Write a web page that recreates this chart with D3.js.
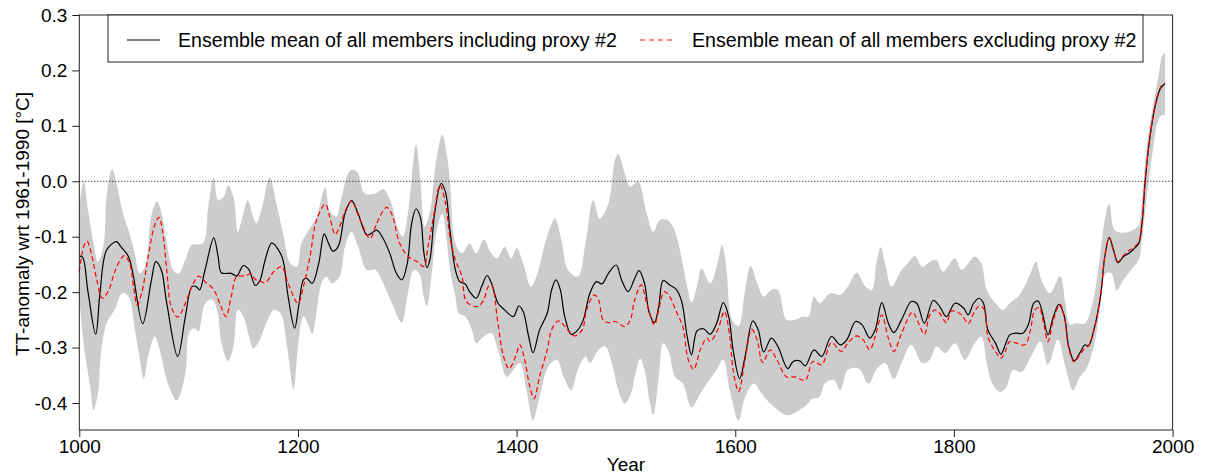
<!DOCTYPE html>
<html>
<head>
<meta charset="utf-8">
<script src="https://cdn.jsdelivr.net/npm/d3@7"></script>
<style>
  body { margin: 0; background: #fff; }
  text { font-family: "Liberation Sans", Arial, sans-serif; }
</style>
</head>
<body>
<div id="wrapper"></div>
<script>
const w = 1205
const h = 475

// ensemble mean, all members incl. proxy #2 (black line)
const meanYears = [1000,1003,1008,1015,1019,1025,1034,1038,1045,1049,1058,1066,1070,1075,1080,1090,1097,1103,1107,1110,1115,1123,1127,1130,1139,1144,1150,1155,1161,1165,1170,1176,1184,1187,1191,1197,1201,1205,1208,1213,1219,1224,1228,1232,1237,1243,1249,1255,1263,1267,1272,1277,1284,1290,1295,1300,1304,1308,1312,1315,1318,1321,1325,1331,1335,1339,1344,1348,1353,1357,1363,1368,1373,1377,1383,1389,1397,1402,1406,1411,1415,1421,1428,1432,1436,1440,1444,1450,1456,1461,1467,1473,1478,1484,1491,1496,1502,1508,1512,1517,1521,1526,1530,1534,1540,1546,1551,1556,1560,1565,1571,1577,1583,1589,1594,1598,1604,1609,1616,1621,1626,1633,1639,1648,1653,1659,1664,1672,1679,1688,1696,1702,1710,1716,1723,1728,1734,1740,1745,1752,1761,1766,1773,1781,1787,1793,1801,1809,1813,1818,1823,1827,1831,1838,1843,1847,1851,1856,1863,1868,1873,1877,1881,1886,1891,1896,1901,1905,1910,1915,1920,1923,1928,1934,1938,1942,1946,1950,1955,1960,1964,1969,1972,1975,1979,1984,1989,1993]
const meanVals = [-0.135,-0.137,-0.2,-0.276,-0.2,-0.124,-0.109,-0.118,-0.136,-0.166,-0.257,-0.178,-0.145,-0.16,-0.22,-0.316,-0.244,-0.19,-0.19,-0.196,-0.16,-0.102,-0.136,-0.165,-0.166,-0.171,-0.152,-0.159,-0.188,-0.18,-0.142,-0.111,-0.13,-0.148,-0.208,-0.265,-0.22,-0.178,-0.175,-0.184,-0.148,-0.095,-0.112,-0.126,-0.117,-0.058,-0.035,-0.058,-0.097,-0.094,-0.088,-0.1,-0.13,-0.166,-0.178,-0.148,-0.076,-0.05,-0.065,-0.126,-0.156,-0.138,-0.058,-0.004,-0.02,-0.088,-0.16,-0.181,-0.185,-0.199,-0.211,-0.19,-0.17,-0.184,-0.22,-0.232,-0.244,-0.225,-0.235,-0.28,-0.309,-0.268,-0.238,-0.196,-0.178,-0.196,-0.244,-0.276,-0.268,-0.25,-0.202,-0.181,-0.185,-0.166,-0.151,-0.178,-0.199,-0.175,-0.161,-0.184,-0.235,-0.255,-0.226,-0.179,-0.187,-0.195,-0.217,-0.28,-0.313,-0.27,-0.266,-0.276,-0.256,-0.219,-0.244,-0.304,-0.356,-0.316,-0.252,-0.268,-0.308,-0.283,-0.298,-0.338,-0.325,-0.324,-0.333,-0.304,-0.316,-0.28,-0.295,-0.286,-0.253,-0.259,-0.283,-0.268,-0.219,-0.256,-0.273,-0.25,-0.217,-0.22,-0.256,-0.215,-0.226,-0.244,-0.22,-0.229,-0.241,-0.22,-0.211,-0.22,-0.268,-0.292,-0.312,-0.295,-0.277,-0.274,-0.274,-0.259,-0.22,-0.216,-0.238,-0.277,-0.244,-0.222,-0.244,-0.298,-0.324,-0.31,-0.295,-0.297,-0.268,-0.208,-0.136,-0.101,-0.124,-0.147,-0.136,-0.13,-0.123,-0.112,-0.076,0.002,0.075,0.135,0.168,0.176]

// ensemble mean excluding proxy #2 (red dashed)
const exclYears = [1000,1004,1007,1011,1016,1021,1027,1033,1041,1046,1050,1053,1057,1063,1069,1073,1076,1080,1084,1090,1097,1103,1109,1115,1123,1129,1134,1139,1144,1152,1156,1161,1165,1170,1178,1185,1191,1200,1205,1211,1217,1225,1229,1234,1238,1245,1249,1257,1266,1272,1281,1286,1293,1301,1309,1315,1319,1324,1330,1335,1339,1344,1350,1354,1364,1370,1374,1377,1383,1388,1393,1399,1403,1408,1412,1416,1421,1428,1432,1438,1443,1449,1453,1460,1464,1471,1475,1479,1484,1490,1499,1504,1508,1514,1519,1526,1530,1535,1540,1546,1552,1557,1562,1568,1574,1577,1584,1590,1595,1598,1603,1609,1615,1620,1625,1632,1638,1647,1655,1664,1671,1679,1688,1697,1703,1711,1717,1723,1728,1734,1740,1745,1752,1762,1767,1773,1778,1783,1787,1793,1798,1807,1813,1818,1823,1828,1831,1838,1843,1847,1851,1857,1865,1870,1874,1878,1882,1886,1891,1897,1901,1905,1910,1915,1920,1923,1928,1934,1938,1942,1946,1950,1955,1960,1964,1969,1972,1975,1979,1984,1989,1993]
const exclVals = [-0.163,-0.118,-0.108,-0.13,-0.178,-0.211,-0.196,-0.16,-0.134,-0.148,-0.196,-0.223,-0.202,-0.136,-0.079,-0.065,-0.088,-0.16,-0.226,-0.245,-0.22,-0.19,-0.171,-0.181,-0.196,-0.223,-0.244,-0.208,-0.172,-0.171,-0.167,-0.177,-0.18,-0.183,-0.163,-0.154,-0.184,-0.22,-0.19,-0.136,-0.07,-0.041,-0.064,-0.096,-0.082,-0.046,-0.036,-0.07,-0.103,-0.076,-0.047,-0.06,-0.112,-0.136,-0.145,-0.154,-0.118,-0.064,-0.007,-0.04,-0.1,-0.142,-0.172,-0.217,-0.226,-0.214,-0.19,-0.187,-0.257,-0.316,-0.338,-0.316,-0.295,-0.328,-0.37,-0.392,-0.352,-0.304,-0.268,-0.252,-0.259,-0.274,-0.279,-0.268,-0.232,-0.205,-0.214,-0.25,-0.255,-0.253,-0.262,-0.25,-0.214,-0.187,-0.22,-0.259,-0.232,-0.199,-0.208,-0.235,-0.262,-0.322,-0.339,-0.304,-0.283,-0.289,-0.268,-0.235,-0.28,-0.34,-0.379,-0.322,-0.267,-0.286,-0.327,-0.304,-0.322,-0.353,-0.353,-0.359,-0.325,-0.331,-0.291,-0.307,-0.292,-0.279,-0.286,-0.304,-0.28,-0.241,-0.283,-0.307,-0.275,-0.236,-0.253,-0.276,-0.241,-0.232,-0.238,-0.255,-0.234,-0.241,-0.257,-0.238,-0.225,-0.232,-0.28,-0.307,-0.319,-0.307,-0.289,-0.292,-0.295,-0.268,-0.232,-0.228,-0.256,-0.289,-0.25,-0.222,-0.244,-0.301,-0.326,-0.313,-0.301,-0.297,-0.268,-0.208,-0.136,-0.103,-0.126,-0.145,-0.134,-0.125,-0.12,-0.109,-0.074,0.004,0.077,0.137,0.17,0.178]

// grey ensemble spread, upper edge
const upperYears = [1000,1004,1008,1013,1017,1022,1025,1030,1034,1040,1046,1051,1055,1060,1066,1071,1076,1080,1086,1091,1097,1103,1113,1118,1123,1127,1132,1136,1141,1145,1150,1154,1159,1162,1168,1174,1181,1187,1193,1199,1203,1210,1217,1225,1229,1235,1240,1248,1254,1261,1271,1278,1286,1290,1296,1301,1308,1312,1316,1321,1327,1332,1336,1339,1344,1350,1357,1363,1370,1376,1382,1389,1395,1400,1406,1413,1418,1426,1432,1435,1441,1447,1456,1463,1470,1476,1484,1490,1493,1499,1504,1511,1519,1525,1531,1537,1543,1549,1556,1560,1565,1569,1577,1583,1588,1592,1597,1603,1609,1614,1620,1626,1633,1639,1647,1656,1662,1667,1672,1677,1687,1696,1703,1711,1719,1725,1729,1733,1737,1743,1752,1758,1764,1771,1778,1784,1790,1801,1807,1819,1825,1830,1838,1845,1851,1860,1870,1875,1880,1888,1897,1902,1906,1911,1920,1926,1932,1937,1942,1947,1955,1964,1969,1972,1976,1982,1987,1991,1993]
const upperVals = [-0.046,0.0,-0.052,-0.112,-0.145,-0.118,-0.028,0.022,-0.004,-0.058,-0.094,-0.133,-0.166,-0.154,-0.061,-0.036,-0.064,-0.112,-0.16,-0.166,-0.142,-0.115,-0.112,-0.046,0.007,-0.034,-0.028,-0.007,-0.028,-0.091,-0.058,-0.034,-0.064,-0.076,-0.04,0.007,-0.046,-0.1,-0.148,-0.154,-0.112,-0.088,-0.064,-0.011,-0.052,-0.064,-0.028,0.02,0.017,-0.022,-0.022,-0.014,-0.043,-0.076,-0.1,-0.052,0.066,0.002,-0.082,-0.052,0.045,0.084,0.05,0.0,-0.112,-0.13,-0.112,-0.13,-0.105,-0.127,-0.139,-0.118,-0.139,-0.121,-0.148,-0.19,-0.172,-0.112,-0.076,-0.067,-0.106,-0.16,-0.172,-0.112,-0.034,-0.067,-0.04,0.039,0.049,0.014,-0.01,0.0,-0.058,-0.091,-0.07,-0.069,-0.082,-0.121,-0.19,-0.219,-0.19,-0.157,-0.184,-0.154,-0.115,-0.16,-0.25,-0.261,-0.196,-0.153,-0.184,-0.208,-0.196,-0.196,-0.25,-0.249,-0.244,-0.244,-0.208,-0.22,-0.202,-0.205,-0.19,-0.165,-0.19,-0.196,-0.148,-0.119,-0.148,-0.19,-0.16,-0.148,-0.135,-0.154,-0.145,-0.142,-0.163,-0.139,-0.16,-0.136,-0.148,-0.196,-0.22,-0.232,-0.22,-0.205,-0.166,-0.145,-0.178,-0.202,-0.171,-0.22,-0.259,-0.256,-0.256,-0.226,-0.16,-0.082,-0.04,-0.088,-0.093,-0.088,-0.079,-0.034,0.057,0.135,0.189,0.228,0.231]

// grey ensemble spread, lower edge
const lowerYears = [1000,1004,1010,1013,1017,1020,1025,1033,1039,1045,1051,1055,1059,1063,1069,1075,1081,1089,1097,1101,1106,1109,1115,1121,1126,1130,1136,1141,1145,1150,1155,1159,1164,1171,1178,1184,1190,1196,1200,1205,1210,1213,1216,1222,1226,1231,1238,1243,1249,1255,1263,1271,1278,1286,1295,1300,1306,1311,1315,1318,1322,1327,1332,1336,1339,1344,1347,1353,1359,1363,1370,1377,1383,1391,1397,1403,1409,1415,1421,1429,1437,1443,1450,1456,1463,1467,1475,1481,1487,1493,1499,1505,1508,1513,1517,1522,1525,1530,1534,1539,1545,1552,1560,1568,1575,1583,1589,1595,1603,1609,1617,1624,1632,1639,1647,1656,1665,1671,1677,1682,1690,1696,1703,1713,1722,1729,1737,1745,1752,1761,1771,1778,1784,1792,1801,1810,1819,1825,1830,1835,1842,1848,1854,1862,1871,1879,1886,1895,1902,1909,1915,1921,1928,1934,1939,1944,1949,1955,1962,1969,1972,1976,1982,1987,1991,1993]
const lowerVals = [-0.208,-0.292,-0.371,-0.413,-0.383,-0.307,-0.256,-0.229,-0.202,-0.208,-0.27,-0.316,-0.356,-0.316,-0.28,-0.316,-0.365,-0.395,-0.347,-0.27,-0.265,-0.271,-0.221,-0.213,-0.232,-0.292,-0.324,-0.298,-0.232,-0.244,-0.277,-0.301,-0.29,-0.256,-0.232,-0.238,-0.298,-0.375,-0.298,-0.244,-0.262,-0.276,-0.25,-0.181,-0.172,-0.184,-0.172,-0.118,-0.091,-0.118,-0.16,-0.16,-0.184,-0.22,-0.255,-0.208,-0.16,-0.166,-0.208,-0.226,-0.172,-0.088,-0.058,-0.106,-0.16,-0.208,-0.238,-0.244,-0.268,-0.292,-0.28,-0.274,-0.304,-0.353,-0.34,-0.328,-0.377,-0.431,-0.389,-0.334,-0.322,-0.353,-0.377,-0.34,-0.316,-0.328,-0.304,-0.298,-0.328,-0.377,-0.401,-0.38,-0.353,-0.32,-0.34,-0.401,-0.422,-0.353,-0.292,-0.307,-0.353,-0.365,-0.408,-0.383,-0.362,-0.34,-0.322,-0.377,-0.432,-0.389,-0.365,-0.383,-0.401,-0.413,-0.422,-0.416,-0.404,-0.392,-0.389,-0.365,-0.358,-0.377,-0.34,-0.338,-0.365,-0.34,-0.328,-0.357,-0.328,-0.295,-0.328,-0.322,-0.298,-0.31,-0.292,-0.322,-0.292,-0.28,-0.328,-0.365,-0.38,-0.371,-0.341,-0.344,-0.314,-0.289,-0.331,-0.286,-0.335,-0.377,-0.353,-0.338,-0.298,-0.226,-0.166,-0.166,-0.196,-0.178,-0.16,-0.142,-0.106,-0.034,0.057,0.111,0.12,0.118]

const xTicks = [1000, 1200, 1400, 1600, 1800, 2000]
const yTicks = [-0.4, -0.3, -0.2, -0.1, 0.0, 0.1, 0.2, 0.3]
const legendLabels = ["Ensemble mean of all members including proxy #2",
                      "Ensemble mean of all members excluding proxy #2"]

const plotLeft = 79.3, plotRight = 1172.6, plotTop = 15, plotBottom = 430

const svg = d3.select("#wrapper").append("svg")
  .attr("width", w)
  .attr("height", h)

const x = d3.scaleLinear().domain([1000, 2000]).range([plotLeft, plotRight])
const y = d3.scaleLinear().domain([-0.4487, 0.3]).range([plotBottom, plotTop])

const gen = d3.line().curve(d3.curveCatmullRom.alpha(0.5))

// spread band: upper edge forward, lower edge back
const upPts = upperYears.map((d, i) => [x(d), y(upperVals[i])])
const loPts = lowerYears.map((d, i) => [x(d), y(lowerVals[i])]).reverse()
svg.append("path")
  .attr("d", gen(upPts) + gen(loPts).replace(/^M/, "L") + "Z")
  .attr("fill", "#cccccc")
  .attr("stroke", "none")

// zero reference line
svg.append("line")
  .attr("x1", plotLeft).attr("x2", plotRight)
  .attr("y1", y(0)).attr("y2", y(0))
  .attr("stroke", "#000")
  .attr("stroke-width", 1)
  .attr("stroke-dasharray", "1,2")

const seriesLine = (years, vals) =>
  gen(years.map((d, i) => [x(d), y(vals[i])]))

svg.append("path")
  .attr("d", seriesLine(meanYears, meanVals))
  .attr("fill", "none")
  .attr("stroke", "#000")
  .attr("stroke-width", 1.2)

svg.append("path")
  .attr("d", seriesLine(exclYears, exclVals))
  .attr("fill", "none")
  .attr("stroke", "#ff0000")
  .attr("stroke-width", 1.2)
  .attr("stroke-dasharray", "5,3")

// axes
const fmt = d => d3.format(".1f")(d).replace("\u2212", "-")

const yAxis = svg.append("g")
  .attr("transform", `translate(${plotLeft},0)`)
  .call(d3.axisLeft(y).tickValues(yTicks).tickFormat(fmt).tickSize(7).tickPadding(5))
yAxis.select(".domain").remove()

const xAxis = svg.append("g")
  .attr("transform", `translate(0,${plotBottom})`)
  .call(d3.axisBottom(x).tickValues(xTicks).tickFormat(d3.format("d")).tickSize(7).tickPadding(3))
xAxis.select(".domain").remove()

svg.selectAll(".tick text")
  .attr("font-family", "Liberation Sans, Arial, sans-serif")
  .attr("font-size", 19)
  .attr("fill", "#000")
svg.selectAll(".tick line").attr("stroke", "#222")

// plot frame
svg.append("rect")
  .attr("x", plotLeft).attr("y", plotTop)
  .attr("width", plotRight - plotLeft).attr("height", plotBottom - plotTop)
  .attr("fill", "none")
  .attr("stroke", "#222")
  .attr("stroke-width", 1)

// axis titles
svg.append("text")
  .attr("x", (plotLeft + plotRight) / 2)
  .attr("y", 471)
  .attr("text-anchor", "middle")
  .attr("font-size", 19)
  .text("Year")

svg.append("text")
  .attr("transform", "translate(29,224) rotate(-90)")
  .attr("text-anchor", "middle")
  .attr("font-size", 19)
  .text("TT-anomaly wrt 1961-1990 [°C]")

// legend
const lg = svg.append("g")
lg.append("rect")
  .attr("x", 108).attr("y", plotTop)
  .attr("width", 1143 - 108).attr("height", 62 - plotTop)
  .attr("fill", "#fff")
  .attr("stroke", "#222")

lg.append("line")
  .attr("x1", 127).attr("x2", 160).attr("y1", 40).attr("y2", 40)
  .attr("stroke", "#000").attr("stroke-width", 1.2)
lg.append("text")
  .attr("x", 178).attr("y", 47)
  .attr("font-size", 19.6)
  .text(legendLabels[0])

lg.append("line")
  .attr("x1", 640).attr("x2", 673).attr("y1", 40).attr("y2", 40)
  .attr("stroke", "#ff0000").attr("stroke-width", 1.2)
  .attr("stroke-dasharray", "5,4")
lg.append("text")
  .attr("x", 692).attr("y", 47)
  .attr("font-size", 19.6)
  .text(legendLabels[1])
</script>
</body>
</html>
